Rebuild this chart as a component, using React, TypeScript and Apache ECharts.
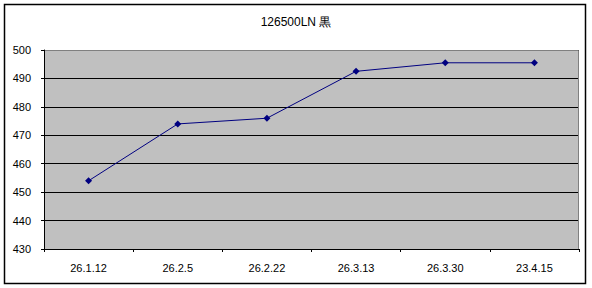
import React, { useEffect, useRef } from "react";
import * as echarts from "echarts";

const titleText = "126500LN 黒";
const categories = ["26.1.12", "26.2.5", "26.2.22", "26.3.13", "26.3.30", "23.4.15"];
const values = [454, 474, 476, 492.5, 495.5, 495.5];
const yMin = 430;
const yMax = 500;
const yStep = 10;

const FONT = "'Liberation Sans', Arial, sans-serif";

export default function App() {
  const ref = useRef<HTMLDivElement>(null);
  useEffect(() => {
    document.body.style.margin = "0";
    const chart = echarts.init(ref.current!, null, { renderer: "svg" });
    chart.setOption({
      animation: false,
      backgroundColor: "#ffffff",
      title: {
        text: titleText,
        left: "center",
        top: 11,
        textStyle: { fontFamily: FONT, fontSize: 12, fontWeight: "normal", color: "#000" },
      },
      graphic: [
        {
          type: "rect",
          shape: { x: 4.5, y: 4.5, width: 581, height: 279 },
          style: { fill: "none", stroke: "#000", lineWidth: 1.5 },
          silent: true,
        },
        {
          type: "polyline",
          shape: { points: [[45, 50.5], [578.5, 50.5], [578.5, 249]] },
          style: { fill: "none", stroke: "#808080", lineWidth: 1 },
          silent: true,
          z: 100,
        },
      ],
      grid: { left: 44, top: 50, right: 13, bottom: 39, show: true, backgroundColor: "#C0C0C0", borderWidth: 0 },
      xAxis: {
        type: "category",
        data: categories,
        boundaryGap: true,
        axisLine: { show: true, lineStyle: { color: "#000", width: 1 } },
        axisTick: { show: true, length: 3, lineStyle: { color: "#000" }, alignWithLabel: false },
        axisLabel: { fontFamily: FONT, fontSize: 11, color: "#000", margin: 13 },
        splitLine: { show: false },
      },
      yAxis: {
        type: "value",
        min: yMin,
        max: yMax,
        interval: yStep,
        axisLine: { show: true, lineStyle: { color: "#000", width: 1 } },
        axisTick: { show: true, length: 3, lineStyle: { color: "#000" } },
        axisLabel: { fontFamily: FONT, fontSize: 11, color: "#000", margin: 13 },
        splitLine: { show: true, lineStyle: { color: "#000", width: 1 } },
      },
      series: [
        {
          type: "line",
          data: values,
          symbol: "diamond",
          symbolSize: 7,
          showSymbol: true,
          lineStyle: { color: "#000080", width: 1 },
          itemStyle: { color: "#000080" },
        },
      ],
    });
    return () => chart.dispose();
  }, []);
  return <div ref={ref} style={{ width: 592, height: 288, position: "fixed", left: 0, top: 0 }} />;
}
